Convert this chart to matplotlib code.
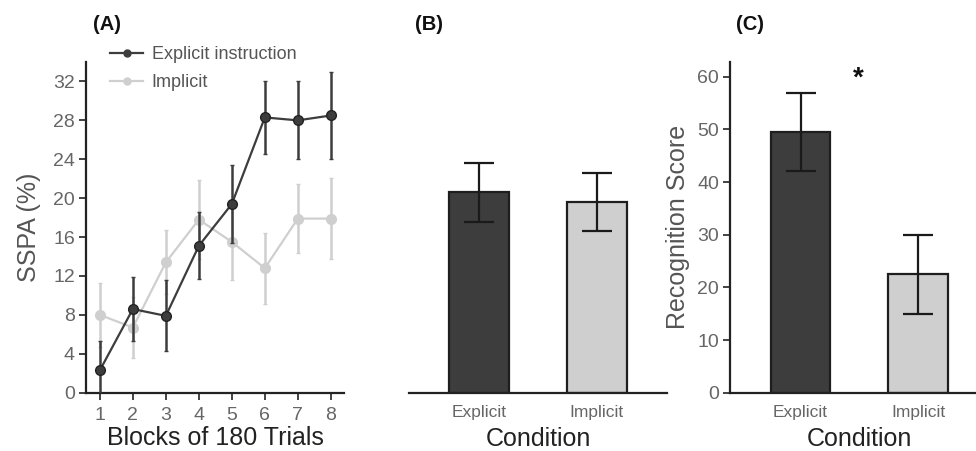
import matplotlib
matplotlib.use("Agg")
import matplotlib.pyplot as plt
from matplotlib.lines import Line2D
import numpy as np

plt.rcParams['font.family'] = ['Liberation Sans', 'DejaVu Sans']

# ---- data ----
blocks = [1, 2, 3, 4, 5, 6, 7, 8]
explicit_mean = [2.3, 8.6, 7.9, 15.1, 19.4, 28.3, 28.0, 28.5]
explicit_err = [3.0, 3.3, 3.65, 3.45, 4.0, 3.75, 4.0, 4.5]
implicit_mean = [8.0, 6.7, 13.4, 17.8, 15.5, 12.8, 17.9, 17.9]
implicit_err = [3.3, 3.1, 3.3, 4.1, 3.9, 3.65, 3.55, 4.2]

conditions = ["Explicit", "Implicit"]
sspa_mean = [20.6, 19.6]
sspa_err = [3.05, 2.95]
recog_mean = [49.5, 22.5]
recog_err = [7.45, 7.5]

a_yticks = [0, 4, 8, 12, 16, 20, 24, 28, 32]
c_yticks = [0, 10, 20, 30, 40, 50, 60]

dark = "#3d3d3d"
light = "#cfcfcf"
edge = "#1e1e1e"
tickc = "#666666"
labc = "#555555"
spinec = "#222222"

fig = plt.figure(figsize=(9.76, 4.51), dpi=100)

bottom = 1 - 392.7 / 451
height = 330.7 / 451

def style_axes(ax):
    for s in ["top", "right"]:
        ax.spines[s].set_visible(False)
    for s in ["left", "bottom"]:
        ax.spines[s].set_linewidth(1.6)
        ax.spines[s].set_color(spinec)
    ax.tick_params(axis="both", colors=spinec, labelcolor=tickc, labelsize=14,
                   length=5, width=1.2, pad=3)

# Panel A
axA = fig.add_axes([86 / 976, bottom, 258 / 976, height])
axA.errorbar(blocks, implicit_mean, yerr=implicit_err, color=light, lw=1.6,
             marker="o", ms=7, mfc=light, mec=light, elinewidth=1.8, capsize=1.5,
             zorder=2)
axA.errorbar(blocks, explicit_mean, yerr=explicit_err, color=dark, lw=1.6,
             marker="o", ms=7, mfc=dark, mec="#222222", elinewidth=1.8, capsize=1.5,
             zorder=3)
axA.set_xlim(0.58, 8.4)
axA.set_ylim(0, 34)
axA.set_yticks(a_yticks)
axA.set_xticks(blocks)
style_axes(axA)
axA.tick_params(axis="x", pad=5)
axA.set_ylabel("SSPA (%)", fontsize=18, color=labc, labelpad=9)
axA.set_xlabel("Blocks of 180 Trials", fontsize=18, color="#222222", labelpad=2)
handles = [Line2D([], [], color=dark, lw=1.6, marker="o", ms=5, mfc=dark, mec=dark),
           Line2D([], [], color=light, lw=1.6, marker="o", ms=5, mfc=light, mec=light)]
leg = fig.legend(handles, ["Explicit instruction", "Implicit"], loc="upper left",
                 bbox_to_anchor=(110 / 976, 1 - 46 / 451), frameon=False, fontsize=13,
                 handlelength=1.85, handletextpad=0.45, labelspacing=0.62,
                 borderpad=0, borderaxespad=0)
for t in leg.get_texts():
    t.set_color(labc)
fig.text(93 / 976, 1 - 24 / 451, "(A)", fontsize=14.5, fontweight="bold",
         va="center", ha="left", color="#111111")

# Panel B
x = np.arange(len(conditions))
axB = fig.add_axes([409 / 976, bottom, 258 / 976, height])
axB.bar(x, sspa_mean, width=0.51, color=[dark, light], edgecolor=edge, lw=1.6, zorder=2)
axB.errorbar(x, sspa_mean, yerr=sspa_err, fmt="none", ecolor="#1a1a1a",
             elinewidth=1.6, capsize=10.5, capthick=1.6, zorder=3)
axB.set_xlim(-0.6, 1.6)
axB.set_ylim(0, 34)
style_axes(axB)
axB.spines["left"].set_visible(False)
axB.set_yticks([])
axB.set_xticks(x)
axB.set_xticklabels(conditions, fontsize=12.5)
axB.tick_params(axis="x", length=0, pad=9)
axB.set_xlabel("Condition", fontsize=18, color="#222222", labelpad=5)
fig.text(415 / 976, 1 - 24 / 451, "(B)", fontsize=14.5, fontweight="bold",
         va="center", ha="left", color="#111111")

# Panel C
axC = fig.add_axes([730 / 976, bottom, 258.5 / 976, height])
axC.bar(x, recog_mean, width=0.51, color=[dark, light], edgecolor=edge, lw=1.6, zorder=2)
axC.errorbar(x, recog_mean, yerr=recog_err, fmt="none", ecolor="#1a1a1a",
             elinewidth=1.6, capsize=10.5, capthick=1.6, zorder=3)
axC.set_xlim(-0.6, 1.6)
axC.set_ylim(0, 62.8)
axC.set_yticks(c_yticks)
style_axes(axC)
axC.set_xticks(x)
axC.set_xticklabels(conditions, fontsize=12.5)
axC.tick_params(axis="x", length=0, pad=9)
axC.set_ylabel("Recognition Score", fontsize=18, color=labc, labelpad=5)
axC.set_xlabel("Condition", fontsize=18, color="#222222", labelpad=5)
axC.text(0.49, 59.6, "*", fontsize=20, fontweight="bold", ha="center", va="center",
         color="#111111")
fig.text(736 / 976, 1 - 24 / 451, "(C)", fontsize=14.5, fontweight="bold",
         va="center", ha="left", color="#111111")

fig.savefig("out.png", dpi=100)
